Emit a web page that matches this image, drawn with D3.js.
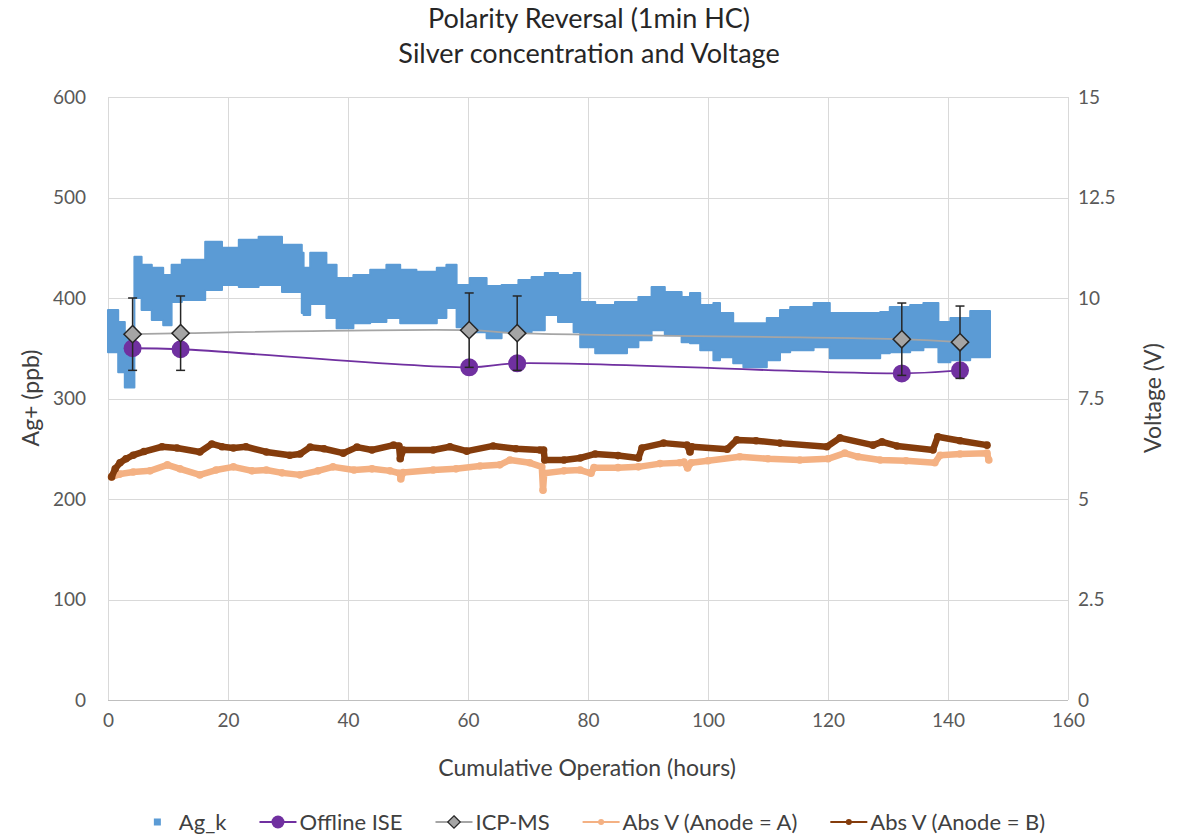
<!DOCTYPE html>
<html>
<head>
<meta charset="utf-8">
<script src="https://cdn.jsdelivr.net/npm/d3@7"></script>
<style>
  body { margin: 0; background: #fff; }
  svg text { font-family: Lato, "Open Sans", sans-serif; fill: #404040; }
</style>
</head>
<body>
<div id="chart"></div>
<script>
// ---- data -------------------------------------------------------------
// Ag_k band: step start (hours), upper and lower envelope (ppb)
var agHours = [0, 1.7, 2.8, 4.4, 5.6, 7.3, 9.2, 10.6, 12.3, 16.2, 19, 21.8, 25.1, 29, 32.3,
               32.6, 33.7, 36.4, 38.1, 40.9, 43.7, 46.4, 48.7, 51.4, 54.8, 56.4, 58.1, 60.3, 63.1,
               65.6, 68.4, 70.6, 72.8, 75, 77.6, 78.7, 81.2, 84.5, 86.5, 88.4, 90.6, 92.8, 95.6,
               97, 98.7, 100.9, 102, 104.2, 105.9, 109.8, 112, 113.7, 117.6, 120.3, 128.7, 130.3,
               133.7, 135.9, 138.4, 140.4, 143.7, 146.8];
var agHigh  = [388, 376, 363, 441, 433, 430, 423, 433, 438, 456, 450, 458, 461, 453, 445,
               430, 445, 433, 420, 423, 428, 433, 428, 426, 430, 433, 413, 420, 412,
               413, 418, 421, 425, 423, 425, 396, 393, 396, 396, 401, 411, 406, 401,
               405, 393, 395, 385, 375, 375, 380, 388, 391, 395, 385, 386, 391,
               393, 395, 376, 380, 387, 387];
var agLow   = [346, 326, 311, 400, 388, 378, 373, 396, 398, 408, 413, 411, 413, 406, 385,
               383, 394, 380, 370, 375, 376, 380, 375, 375, 380, 390, 371, 366, 360,
               366, 366, 368, 383, 376, 366, 351, 345, 345, 351, 358, 368, 363, 356,
               355, 348, 338, 341, 335, 331, 338, 346, 348, 351, 340, 345, 346,
               348, 351, 336, 338, 341, 341];

// sample points (hours)
var sampleHours = [4.1, 12.1, 60.2, 68.2, 132.3, 142];
var iseValues   = [350, 349, 331, 335, 325, 328];
var icpValues   = [364, 365, 368, 365, 359, 356];
var icpError    = [36, 37, 37, 37, 36, 36];

// voltage, anode = A
var vaHours = [0.6, 2, 4.2, 7, 9.9, 12, 15.3, 18, 20.9, 24, 26.4, 29, 32, 35, 37.5, 41, 44, 47,
               48.6, 48.8, 49.2, 54.2, 58, 62, 65.3, 67, 70.3, 72.3, 72.5, 72.7, 76, 78.7, 80.5,
               81, 85, 88.4, 92, 95.3, 96, 96.6, 97.2, 100, 105.3, 110, 115.3, 120, 122.8, 125,
               128.7, 133, 137.8, 138.7, 142, 146.5, 146.8];
var vaValues = [5.55, 5.62, 5.67, 5.7, 5.85, 5.75, 5.6, 5.72, 5.8, 5.7, 5.72, 5.65, 5.6, 5.7, 5.8, 5.72, 5.75, 5.7,
               5.64, 5.5, 5.66, 5.72, 5.75, 5.82, 5.85, 5.97, 5.9, 5.8, 5.22, 5.64, 5.7, 5.72, 5.64,
               5.78, 5.78, 5.8, 5.88, 5.9, 5.92, 5.77, 5.9, 5.95, 6.05, 6.0, 5.97, 6.0, 6.14, 6.05,
               5.97, 5.95, 5.9, 6.09, 6.12, 6.14, 5.97];

// voltage, anode = B
var vbHours = [0.6, 1.2, 2, 3, 4.2, 6, 9, 11.5, 15.3, 17.3, 19, 20.9, 23, 26.4, 30.3, 32, 33.7, 36,
               39.2, 41.5, 44, 47.6, 48.5, 48.7, 49.2, 54.2, 57, 59.8, 64.2, 68, 72, 72.6, 72.8, 76,
               78.7, 81.2, 85, 88.4, 89, 92.6, 96.5, 97, 97.3, 103.2, 104.8, 108, 112, 119.8, 122,
               127.5, 129, 131.5, 137.5, 138.3, 142, 146.5];
var vbValues = [5.55, 5.75, 5.9, 6.0, 6.09, 6.18, 6.3, 6.27, 6.17, 6.37, 6.3, 6.27, 6.3, 6.17, 6.09, 6.12, 6.29, 6.25,
               6.14, 6.29, 6.22, 6.34, 6.32, 6.0, 6.22, 6.22, 6.3, 6.19, 6.32, 6.25, 6.22, 6.22, 5.97, 5.97,
               6.02, 6.12, 6.08, 6.02, 6.27, 6.39, 6.34, 6.17, 6.3, 6.24, 6.47, 6.45, 6.39, 6.3, 6.52,
               6.34, 6.42, 6.32, 6.22, 6.55, 6.45, 6.34];

var xTicks  = [0, 20, 40, 60, 80, 100, 120, 140, 160];
var yTicks  = [0, 100, 200, 300, 400, 500, 600];
var vTicks  = [0, 2.5, 5, 7.5, 10, 12.5, 15];

var legendNames = ['Ag_k', 'Offline ISE', 'ICP-MS', 'Abs V (Anode = A)', 'Abs V (Anode = B)'];

// ---- colours ----------------------------------------------------------
var C_AG = '#5B9BD5', C_ISE = '#7030A0', C_ICP = '#A5A5A5',
    C_VA = '#F4B183', C_VB = '#843C0C', C_GRID = '#D9D9D9', C_TXT = '#595959';

var WIDTH = 1178, HEIGHT = 836;
var L = 108, R = 1068, T = 97, B = 700;

var svg = d3.select('#chart').append('svg')
    .attr('width', WIDTH).attr('height', HEIGHT);

var x  = d3.scaleLinear().domain([0, 160]).range([L, R]);
var y  = d3.scaleLinear().domain([0, 600]).range([B, T]);
var yv = d3.scaleLinear().domain([0, 15]).range([B, T]);

// gridlines
var grid = svg.append('g');
grid.selectAll('.gx').data(xTicks).enter().append('line')
    .attr('x1', d => x(d) + 0.5).attr('x2', d => x(d) + 0.5)
    .attr('y1', T).attr('y2', B)
    .attr('stroke', C_GRID).attr('stroke-width', 1);
grid.selectAll('.gy').data(yTicks).enter().append('line')
    .attr('x1', L).attr('x2', R)
    .attr('y1', d => Math.round(y(d)) + 0.5).attr('y2', d => Math.round(y(d)) + 0.5)
    .attr('stroke', C_GRID).attr('stroke-width', 1);

// axes (labels only, Excel style)
var axL = svg.append('g').attr('transform', 'translate(' + L + ',0)')
    .call(d3.axisLeft(y).tickValues(yTicks).tickSize(0).tickPadding(22));
var axR = svg.append('g').attr('transform', 'translate(' + R + ',0)')
    .call(d3.axisRight(yv).tickValues(vTicks).tickSize(0).tickPadding(10)
        .tickFormat(d => d3.format('')(d)));
var axB = svg.append('g').attr('transform', 'translate(0,' + B + ')')
    .call(d3.axisBottom(x).tickValues(xTicks).tickSize(0).tickPadding(14));
[axL, axR, axB].forEach(function(a){
    a.select('.domain').remove();
    a.selectAll('text').style('font-size', '19px').style('fill', C_TXT)
        .style('font-family', 'Lato, sans-serif');
});
svg.append('line').attr('x1', L + 0.5).attr('x2', L + 0.5).attr('y1', T).attr('y2', B)
    .attr('stroke', C_GRID);
svg.append('line').attr('x1', L).attr('x2', R).attr('y1', B + 0.5).attr('y2', B + 0.5)
    .attr('stroke', '#BFBFBF');

// ---- Ag_k band ----
var agData = agHours.map((h, i) => ({h: h, hi: agHigh[i], lo: agLow[i]}));
agData.push({h: 147, hi: agHigh[agHigh.length - 1], lo: agLow[agLow.length - 1]});
svg.append('path')
    .datum(agData)
    .attr('d', d3.area().curve(d3.curveStepAfter)
        .x(d => x(d.h)).y0(d => y(d.lo)).y1(d => y(d.hi)))
    .attr('fill', C_AG)
    .attr('stroke', C_AG).attr('stroke-width', 2).attr('stroke-linejoin', 'round');

// ---- voltage lines ----
function voltLine(hours, vals, col){
    var pts = hours.map((h, i) => [h, vals[i]]);
    var g = svg.append('g');
    g.append('path').datum(pts)
        .attr('d', d3.line().x(d => x(d[0])).y(d => yv(d[1])))
        .attr('fill', 'none').attr('stroke', col).attr('stroke-width', 6.5)
        .attr('stroke-linejoin', 'round').attr('stroke-linecap', 'round');
    g.selectAll('circle').data(pts).enter().append('circle')
        .attr('cx', d => x(d[0])).attr('cy', d => yv(d[1])).attr('r', 3.8)
        .attr('fill', col);
}
voltLine(vaHours, vaValues, C_VA);
voltLine(vbHours, vbValues, C_VB);

// ---- Offline ISE ----
var ise = sampleHours.map((h, i) => [h, iseValues[i]]);
svg.append('path').datum(ise)
    .attr('d', d3.line().curve(d3.curveCatmullRom).x(d => x(d[0])).y(d => y(d[1])))
    .attr('fill', 'none').attr('stroke', C_ISE).attr('stroke-width', 1.8);
svg.append('g').selectAll('circle').data(ise).enter().append('circle')
    .attr('cx', d => x(d[0])).attr('cy', d => y(d[1])).attr('r', 9)
    .attr('fill', C_ISE);

// ---- ICP-MS with error bars ----
var icp = sampleHours.map((h, i) => ({h: h, v: icpValues[i], e: icpError[i]}));
var eb = svg.append('g').attr('stroke', '#262626').attr('stroke-width', 1.5);
icp.forEach(function(d){
    eb.append('line').attr('x1', x(d.h)).attr('x2', x(d.h))
        .attr('y1', y(d.v + d.e)).attr('y2', y(d.v - d.e));
    eb.append('line').attr('x1', x(d.h) - 4.5).attr('x2', x(d.h) + 4.5)
        .attr('y1', y(d.v + d.e)).attr('y2', y(d.v + d.e));
    eb.append('line').attr('x1', x(d.h) - 4.5).attr('x2', x(d.h) + 4.5)
        .attr('y1', y(d.v - d.e)).attr('y2', y(d.v - d.e));
});
svg.append('path').datum(icp)
    .attr('d', d3.line().curve(d3.curveCatmullRom).x(d => x(d.h)).y(d => y(d.v)))
    .attr('fill', 'none').attr('stroke', C_ICP).attr('stroke-width', 1.8);
var diamond = d3.symbol().type(d3.symbolDiamond2).size(190);
svg.append('g').selectAll('path').data(icp).enter().append('path')
    .attr('d', diamond)
    .attr('transform', d => 'translate(' + x(d.h) + ',' + y(d.v) + ')')
    .attr('fill', C_ICP).attr('stroke', '#262626').attr('stroke-width', 1.5);

// ---- titles ----
svg.append('text').attr('x', 589).attr('y', 28).attr('text-anchor', 'middle')
    .style('font-size', '27px').style('fill', '#262626').text('Polarity Reversal (1min HC)');
svg.append('text').attr('x', 589).attr('y', 63).attr('text-anchor', 'middle')
    .style('font-size', '27px').style('fill', '#262626').text('Silver concentration and Voltage');
svg.append('text').attr('x', 587).attr('y', 776).attr('text-anchor', 'middle')
    .style('font-size', '23px').text('Cumulative Operation (hours)');
svg.append('text').attr('transform', 'translate(39,398) rotate(-90)').attr('text-anchor', 'middle')
    .style('font-size', '23px').text('Ag+ (ppb)');
svg.append('text').attr('transform', 'translate(1161,398) rotate(-90)').attr('text-anchor', 'middle')
    .style('font-size', '23px').text('Voltage (V)');

// ---- legend (measured, centred like Excel) ----
var LY = 822, SLOT = 37, GAP = 33;
var leg = svg.append('g');
var texts = legendNames.map(function(n){
    return leg.append('text').attr('y', LY + 8).style('font-size', '22px').text(n);
});
var widths = texts.map(t => t.node().getComputedTextLength());
var total = d3.sum(widths) + legendNames.length * (SLOT + 3) + (legendNames.length - 1) * GAP;
var cx = 592 - total / 2;
var starts = [];
texts.forEach(function(t, i){
    starts.push(cx);
    t.attr('x', cx + SLOT + 3);
    cx += SLOT + 3 + widths[i] + GAP;
});

function legLine(x0, col, w){
    leg.append('line').attr('x1', x0).attr('x2', x0 + SLOT).attr('y1', LY).attr('y2', LY)
        .attr('stroke', col).attr('stroke-width', w);
}
leg.append('rect').attr('x', starts[0] + SLOT / 2 - 3.5).attr('y', LY - 3.5)
    .attr('width', 7).attr('height', 7).attr('fill', C_AG);

legLine(starts[1], C_ISE, 1.8);
leg.append('circle').attr('cx', starts[1] + SLOT / 2).attr('cy', LY).attr('r', 6.5).attr('fill', C_ISE);

legLine(starts[2], C_ICP, 1.8);
leg.append('path').attr('d', d3.symbol().type(d3.symbolDiamond2).size(100))
    .attr('transform', 'translate(' + (starts[2] + SLOT / 2) + ',' + LY + ')')
    .attr('fill', C_ICP).attr('stroke', '#262626').attr('stroke-width', 1.2);

legLine(starts[3], C_VA, 2);
leg.append('circle').attr('cx', starts[3] + SLOT / 2).attr('cy', LY).attr('r', 3).attr('fill', C_VA);

legLine(starts[4], C_VB, 2);
leg.append('circle').attr('cx', starts[4] + SLOT / 2).attr('cy', LY).attr('r', 3).attr('fill', C_VB);
</script>
</body>
</html>
